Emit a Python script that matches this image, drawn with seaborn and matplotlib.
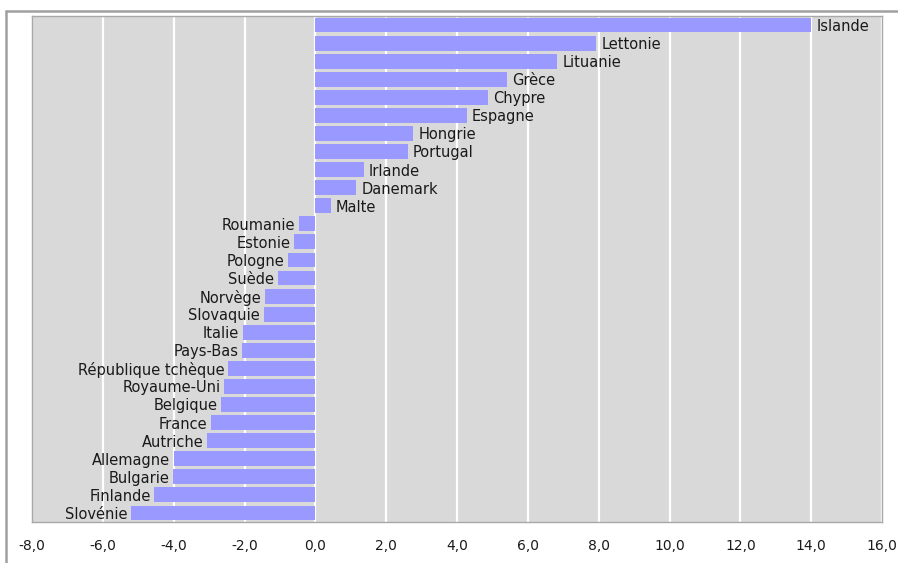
import matplotlib
matplotlib.use("Agg")
import matplotlib.pyplot as plt
import seaborn as sns
from matplotlib.lines import Line2D

# Data (percentage points)
countries = ["Islande", "Lettonie", "Lituanie", "Grèce", "Chypre", "Espagne",
             "Hongrie", "Portugal", "Irlande", "Danemark", "Malte",
             "Roumanie", "Estonie", "Pologne", "Suède", "Norvège", "Slovaquie",
             "Italie", "Pays-Bas", "République tchèque", "Royaume-Uni",
             "Belgique", "France", "Autriche", "Allemagne", "Bulgarie",
             "Finlande", "Slovénie"]
values = [14.0, 7.93, 6.83, 5.41, 4.87, 4.28,
          2.77, 2.62, 1.37, 1.16, 0.44,
          -0.47, -0.61, -0.78, -1.06, -1.43, -1.46,
          -2.05, -2.07, -2.46, -2.57, -2.67, -2.95, -3.05,
          -4.0, -4.02, -4.55, -5.2]
xticks = [-8, -6, -4, -2, 0, 2, 4, 6, 8, 10, 12, 14, 16]

sns.set_style("white")
plt.rcParams["font.family"] = ["DejaVu Sans"]

fig = plt.figure(figsize=(8.98, 5.63), dpi=100)
ax = fig.add_axes([32 / 898, 41 / 563, 850 / 898, 506 / 563])
ax.set_facecolor("#D9D9D9")

sns.barplot(x=values, y=countries, orient="h", color="#9999FF",
            saturation=1, width=0.82, linewidth=0, ax=ax, zorder=3)

# bar labels: right of positive bars, left of negative bars
for i, (name, v) in enumerate(zip(countries, values)):
    if v >= 0:
        ax.text(v + 0.14, i + 0.08, name, ha="left", va="center", fontsize=10.5, color="#1a1a1a", zorder=4)
    else:
        ax.text(v - 0.1, i + 0.08, name, ha="right", va="center", fontsize=10.5, color="#1a1a1a", zorder=4)

ax.set_xlim(-8, 16)
ax.set_ylim(27.5, -0.5)
ax.set_xticks(xticks)
ax.set_xticklabels([f"{t:.1f}".replace(".", ",") for t in xticks], fontsize=10, color="#1a1a1a")
ax.set_yticks([])
ax.set_xlabel("")
ax.set_ylabel("")
ax.xaxis.grid(True, color="white", linewidth=1.6, zorder=1)
ax.set_axisbelow(True)
ax.tick_params(axis="x", direction="out", length=4, width=1, color="#A0A0A0", pad=8)

for side in ["left", "top", "right", "bottom"]:
    ax.spines[side].set_color("#A8A8A8")
    ax.spines[side].set_linewidth(1)

# outer chart frame (top and left edges visible)
fig.add_artist(Line2D([6 / 898, 6 / 898], [0, 1 - 11 / 563], transform=fig.transFigure, color="#A0A0A0", linewidth=1.8))
fig.add_artist(Line2D([6 / 898, 1], [1 - 11 / 563, 1 - 11 / 563], transform=fig.transFigure, color="#A0A0A0", linewidth=1.8))

fig.savefig("out.png", dpi=100)
plt.close(fig)
